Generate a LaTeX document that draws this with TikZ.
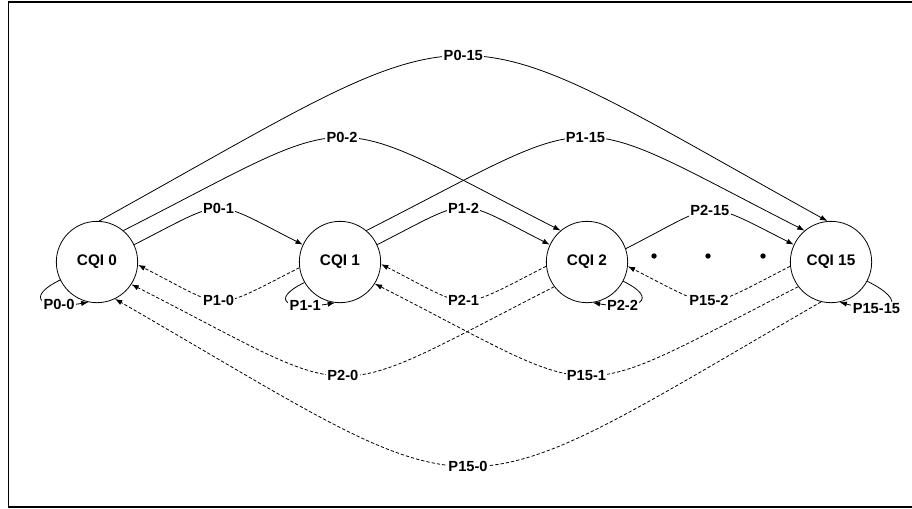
\documentclass[tikz,border=0pt]{standalone}
\usepackage{fontspec}
\setmainfont{Liberation Sans}
\usetikzlibrary{arrows.meta}

\begin{document}
\begin{tikzpicture}[
    x=0.75pt, y=-0.75pt,
    line width=0.6pt,
    state/.style={draw, circle, minimum size=61pt, inner sep=0pt,
        font=\fontsize{11.5}{13}\selectfont\bfseries},
    lbl/.style={fill=white, inner sep=1pt,
        font=\fontsize{11}{12}\selectfont\bfseries},
    fwd/.style={-{Latex[length=5.5pt,width=4pt]}, looseness=1.6},
    bwd/.style={fwd, dash pattern=on 2.5pt off 1.5pt},
]

    \useasboundingbox (0,0) rectangle (912,508);

    \draw [line width=1.2pt]
        (912,2) -- (8.5,2) -- (8.5,507) -- (912,507);

    \node [state] (c0)  at (97,262)  {CQI 0};
    \node [state] (c1)  at (340,262) {CQI 1};
    \node [state] (c2)  at (587,262) {CQI 2};
    \node [state] (c15) at (831,262) {CQI 15};

    % forward
    \draw [fwd] (c0.25) to[out=27,in=153] node [lbl] {P0-1} (c1.155);
    \draw [fwd] (c1.25) to[out=27,in=153] node [lbl] {P1-2} (c2.155);
    \draw [fwd] (c2.19) to[out=27,in=153] node [lbl] {P2-15} (c15.155);

    \draw [fwd] (c0.50) to[out=27,in=153] node [lbl] {P0-2} (c2.130);
    \draw [fwd] (c1.50) to[out=27,in=153] node [lbl] {P1-15} (c15.130);
    \draw [fwd] (c0.87) to[out=29,in=151] node [lbl] {P0-15} (c15.95);

    % backward
    \draw [bwd] (c1.188) to[out=207,in=-27] node [lbl] {P1-0} (c0.-4);
    \draw [bwd] (c2.186) to[out=207,in=-27] node [lbl] {P2-1} (c1.-3);
    \draw [bwd] (c15.186) to[out=207,in=-27] node [lbl] {P15-2} (c2.-6);

    \draw [bwd] (c2.217) to[out=207,in=-27] node [lbl] {P2-0} (c0.-33);
    \draw [bwd] (c15.217) to[out=207,in=-27] node [lbl] {P15-1} (c1.-32);
    \draw [bwd] (c15.256) to[out=210,in=-30] node [lbl] {P15-0} (c0.-64);

    % self loops
    \draw [fwd] (c0.206)
        to[out=206,in=190,out distance=30pt,in distance=36pt]
            node [lbl,pos=0.75] {P0-0}
        (c0.258);
    \draw [fwd] (c1.210)
        to[out=206,in=190,out distance=30pt,in distance=36pt]
            node [lbl,pos=0.75] {P1-1}
        (c1.263);
    \draw [fwd] (c2.-28)
        to[out=-26,in=-10,out distance=30pt,in distance=36pt]
            node [lbl,pos=0.75] {P2-2}
        (c2.-82);
    \draw [fwd] (c15.-28)
        to[out=-26,in=-15,out distance=34pt,in distance=44pt]
            node [lbl,pos=0.72] {P15-15}
        (c15.-78);

    \fill
        (654,256) circle (2.7)
        (708,256) circle (2.7)
        (763,256) circle (2.7)
        ;
\end{tikzpicture}
\end{document}
